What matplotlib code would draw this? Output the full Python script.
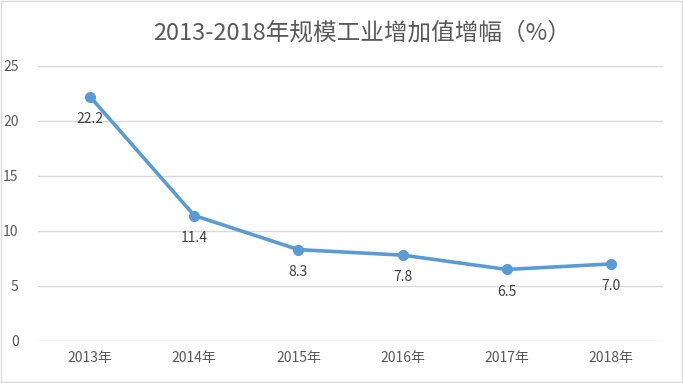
import matplotlib
matplotlib.use("Agg")
import matplotlib.pyplot as plt
from matplotlib.patches import Rectangle

plt.rcParams['font.family'] = ['Noto Sans CJK SC', 'DejaVu Sans']

years = ['2013年', '2014年', '2015年', '2016年', '2017年', '2018年']
growth = [22.2, 11.4, 8.3, 7.8, 6.5, 7.0]
labels = ['22.2', '11.4', '8.3', '7.8', '6.5', '7.0']

fig = plt.figure(figsize=(6.83, 3.83), dpi=100)
ax = fig.add_axes([0.0556, 0.1097, 0.9154, 0.7183])

x = list(range(len(years)))
ax.plot(x, growth, color='#5B9BD5', linewidth=2.6, marker='o', markersize=7,
        solid_capstyle='round', zorder=3)

for xi, yi, lab in zip(x, growth, labels):
    ax.annotate(lab, (xi, yi), xytext=(0, -11), textcoords='offset points',
                ha='center', va='top', fontsize=10, color='#404040')

ax.set_xlim(-0.5, 5.5)
ax.set_ylim(0, 25)
ax.set_yticks([0, 5, 10, 15, 20, 25])
ax.set_xticks(x)
ax.set_xticklabels(years)
ax.tick_params(axis='both', length=0, labelsize=10, labelcolor='#595959')
ax.tick_params(axis='x', pad=7)
ax.tick_params(axis='y', pad=14)
ax.grid(axis='y', color='#D9D9D9', linewidth=1)
ax.set_axisbelow(True)
for s in ax.spines.values():
    s.set_visible(False)

fig.text(0.53, 0.914, '2013-2018年规模工业增加值增幅（%）', ha='center', va='center',
         fontsize=17, color='#595959')

fig.patches.append(Rectangle((0.002, 0.003), 0.996, 0.994, transform=fig.transFigure,
                             fill=False, edgecolor='#D9D9D9', linewidth=1))

fig.savefig('out.png', dpi=100)
